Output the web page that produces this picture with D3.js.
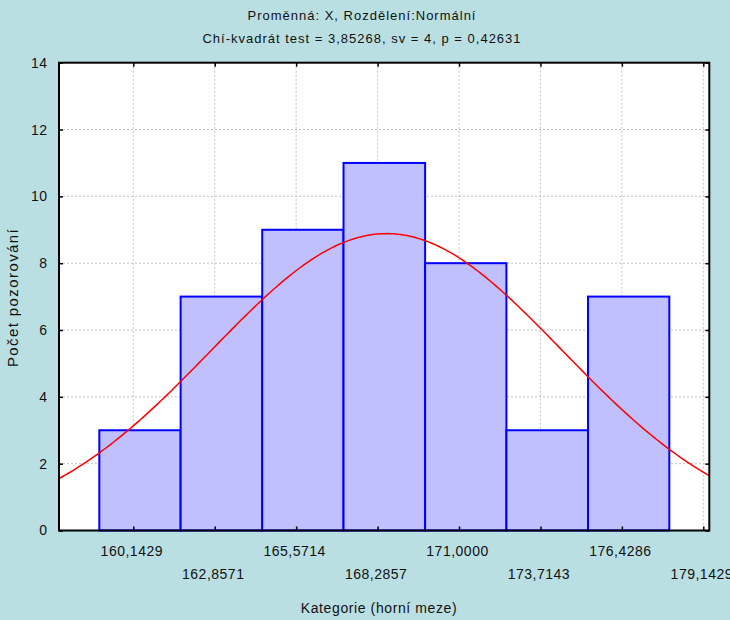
<!DOCTYPE html>
<html>
<head>
<meta charset="utf-8">
<script src="https://cdn.jsdelivr.net/npm/d3@7"></script>
<style>
  body { margin: 0; background: #b9dfe2; }
  svg { display: block; font-family: "Liberation Sans", Arial, sans-serif; }
</style>
</head>
<body>
<div class="graf"></div>
<script>
const width = 730;
const height = 620;
const margin = {top: 62.7, right: 20.7, bottom: 89.5, left: 59};

// data
const tickBounds = [160.1429, 162.8571, 165.5714, 168.2857, 171.0000, 173.7143, 176.4286, 179.1429];
const binEdges = [159.01, 161.72, 164.44, 167.15, 169.87, 172.58, 175.30, 178.01];
const counts = [3, 7, 9, 11, 8, 3, 7];
const yTicks = [0, 2, 4, 6, 8, 10, 12, 14];
const xDomain = [157.666, 179.343];
// fitted normal curve (parameters estimated from the red line)
const fitMean = 168.59;
const fitSd = 5.85;
const binWidth = 2.7143;

const title = "Proměnná: X, Rozdělení:Normální";
const subtitle = "Chí-kvadrát test = 3,85268, sv = 4, p = 0,42631";
const xTitle = "Kategorie (horní meze)";
const yTitle = "Počet pozorování";

const svg = d3.select(".graf").append("svg")
    .attr("width", width)
    .attr("height", height);

svg.append("rect").attr("width", width).attr("height", height).attr("fill", "#b9dfe2");

const x = d3.scaleLinear().domain(xDomain).range([margin.left, width - margin.right]);
const y = d3.scaleLinear().domain([0, 14]).range([height - margin.bottom, margin.top]);

// plot background
svg.append("rect")
    .attr("x", x.range()[0]).attr("y", y.range()[1])
    .attr("width", x.range()[1] - x.range()[0])
    .attr("height", y.range()[0] - y.range()[1])
    .attr("fill", "#fff");

// grid
svg.append("g").selectAll("line").data(yTicks.slice(1, -1))
    .enter().append("line")
    .attr("x1", x.range()[0]).attr("x2", x.range()[1])
    .attr("y1", d => y(d)).attr("y2", d => y(d))
    .attr("stroke", "#c4c4c4").attr("stroke-dasharray", "2,2");
svg.append("g").selectAll("line").data(tickBounds)
    .enter().append("line")
    .attr("x1", d => x(d)).attr("x2", d => x(d))
    .attr("y1", y.range()[1]).attr("y2", y.range()[0])
    .attr("stroke", "#c4c4c4").attr("stroke-dasharray", "2,2");

// bars
const bins = counts.map((c, i) => ({x0: binEdges[i], x1: binEdges[i + 1], value: c}));
svg.append("g").selectAll("rect").data(bins)
    .enter().append("rect")
    .attr("x", d => x(d.x0))
    .attr("y", d => y(d.value))
    .attr("width", d => x(d.x1) - x(d.x0))
    .attr("height", d => y(0) - y(d.value))
    .attr("fill", "#c0c0ff")
    .attr("stroke", "#0000ff")
    .attr("stroke-width", 2);

// normal curve, clipped to the plot
svg.append("clipPath").attr("id", "clip").append("rect")
    .attr("x", x.range()[0]).attr("y", y.range()[1])
    .attr("width", x.range()[1] - x.range()[0])
    .attr("height", y.range()[0] - y.range()[1]);

const nObs = d3.sum(counts);
const curvePts = d3.range(0, 201).map(i => {
    const v = xDomain[0] + (xDomain[1] - xDomain[0]) * i / 200;
    const z = (v - fitMean) / fitSd;
    return [v, nObs * binWidth / (fitSd * Math.sqrt(2 * Math.PI)) * Math.exp(-0.5 * z * z)];
});
svg.append("path")
    .datum(curvePts)
    .attr("clip-path", "url(#clip)")
    .attr("fill", "none")
    .attr("stroke", "#ff0000")
    .attr("stroke-width", 1.5)
    .attr("d", d3.line().x(d => x(d[0])).y(d => y(d[1])));

// axes with inward ticks
const fmt = d => d.toFixed(4).replace(".", ",");
const gx = svg.append("g")
    .attr("transform", `translate(0,${y(0)})`)
    .call(d3.axisBottom(x).tickValues(tickBounds).tickSize(-4).tickFormat(fmt));
gx.selectAll("text")
    .attr("y", (d, i) => i % 2 ? 48 : 25.5)
    .attr("dy", 0)
    .attr("dx", -2);

svg.append("g")
    .attr("transform", `translate(0,${y.range()[1]})`)
    .call(d3.axisTop(x).tickValues(tickBounds).tickSize(-4).tickFormat(""));

svg.append("g")
    .attr("transform", `translate(${x.range()[0]},0)`)
    .call(d3.axisLeft(y).tickValues(yTicks).tickSize(-4).tickPadding(11.5));

svg.append("g")
    .attr("transform", `translate(${x.range()[1]},0)`)
    .call(d3.axisRight(y).tickValues(yTicks).tickSize(-4).tickFormat(""));

svg.selectAll(".domain").remove();
svg.selectAll(".tick line").attr("stroke", "#000").attr("stroke-width", 1.5);
svg.selectAll(".tick text")
    .attr("fill", "#111")
    .style("font-family", "'Liberation Sans', Arial, sans-serif")
    .style("font-size", "14px")
    .style("letter-spacing", "0.5px");

// frame
svg.append("rect")
    .attr("x", x.range()[0]).attr("y", y.range()[1])
    .attr("width", x.range()[1] - x.range()[0])
    .attr("height", y.range()[0] - y.range()[1])
    .attr("fill", "none")
    .attr("stroke", "#000")
    .attr("stroke-width", 2);

// titles
svg.append("text").attr("x", 362).attr("y", 19.5)
    .attr("text-anchor", "middle")
    .style("font-size", "13px").style("letter-spacing", "1px")
    .attr("fill", "#111")
    .text(title);
svg.append("text").attr("x", 362).attr("y", 42.5)
    .attr("text-anchor", "middle")
    .style("font-size", "13px").style("letter-spacing", "1px")
    .attr("fill", "#111")
    .text(subtitle);
svg.append("text").attr("x", 379).attr("y", 613)
    .attr("text-anchor", "middle")
    .style("font-size", "14px").style("letter-spacing", "0.6px")
    .attr("fill", "#111")
    .text(xTitle);
svg.append("text")
    .attr("transform", "translate(18.3,297.5) rotate(-90)")
    .attr("text-anchor", "middle")
    .style("font-size", "15px").style("letter-spacing", "1.4px")
    .attr("fill", "#111")
    .text(yTitle);
</script>
</body>
</html>
